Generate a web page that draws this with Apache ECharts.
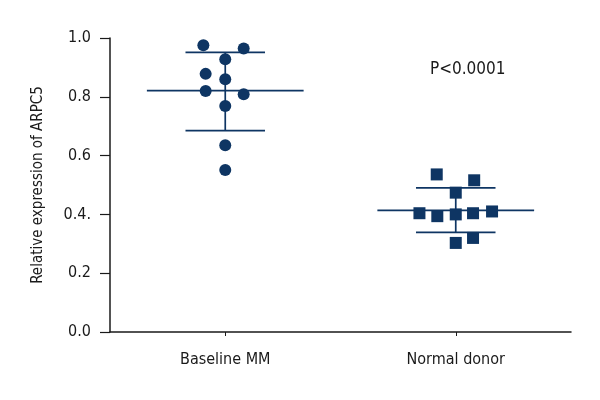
<!DOCTYPE html>
<html>
<head>
<meta charset="utf-8">
<script src="https://cdn.jsdelivr.net/npm/echarts@6/dist/echarts.min.js"></script>
<style>html,body{margin:0;padding:0;background:#fff;}#c{width:600px;height:400px;}</style>
</head>
<body>
<div id="c"></div>
<script>
var categories = ['Baseline MM', 'Normal donor'];
var yTickLabels = {'0': '0.0', '0.2': '0.2', '0.4': '0.4.', '0.6': '0.6', '0.8': '0.8', '1': '1.0'};

// Baseline MM (circles): jitter offset and value
var baselineJitter = [-0.19, 0.16, 0, -0.17, 0, -0.17, 0.16, 0, 0, 0];
var baselineValues = [0.975, 0.964, 0.928, 0.878, 0.860, 0.820, 0.809, 0.769, 0.635, 0.551];
// Normal donor (squares)
var normalJitter = [-0.165, 0.16, 0, -0.315, -0.16, 0, 0.15, 0.315, 0, 0.15];
var normalValues = [0.536, 0.516, 0.474, 0.404, 0.394, 0.400, 0.404, 0.410, 0.303, 0.320];

var groupMean = [0.821, 0.414];
var groupUpper = [0.951, 0.490];
var groupLower = [0.685, 0.339];
var pText = 'P<0.0001';

var color = '#0e3563';
var FONT = "'Liberation Sans Narrow', 'DejaVu Sans Condensed', sans-serif";
var centers = [1, 3];
var meanHalf = 0.68, sdHalf = 0.345;

function pts(center, jit, vals) {
  return vals.map(function (v, i) { return [center + jit[i], v]; });
}

var series = [
  {type: 'scatter', xAxisIndex: 1, symbol: 'circle', symbolSize: 12, itemStyle: {color: color, opacity: 1}, data: pts(centers[0], baselineJitter, baselineValues), z: 5},
  {type: 'scatter', xAxisIndex: 1, symbol: 'rect', symbolSize: 12, itemStyle: {color: color, opacity: 1}, data: pts(centers[1], normalJitter, normalValues), z: 5}
];
function seg(a, b) {
  series.push({type: 'line', xAxisIndex: 1, data: [a, b], symbol: 'none', silent: true,
    lineStyle: {color: color, width: 1.7}, z: 3});
}
for (var g = 0; g < 2; g++) {
  var c = centers[g];
  seg([c - meanHalf, groupMean[g]], [c + meanHalf, groupMean[g]]);
  seg([c - sdHalf, groupUpper[g]], [c + sdHalf, groupUpper[g]]);
  seg([c - sdHalf, groupLower[g]], [c + sdHalf, groupLower[g]]);
  seg([c, groupLower[g]], [c, groupUpper[g]]);
}

var chart = echarts.init(document.getElementById('c'), null, {renderer: 'canvas'});
chart.setOption({
  animation: false,
  backgroundColor: '#fff',
  grid: {left: 110, right: 29, top: 38, bottom: 68},
  xAxis: [
    {type: 'category', data: categories, boundaryGap: true,
      axisLine: {show: true, lineStyle: {color: '#1a1a1a', width: 1.5}},
      axisTick: {show: true, alignWithLabel: true, length: 4, lineStyle: {color: '#1a1a1a'}},
      axisLabel: {color: '#1a1a1a', fontFamily: FONT, fontSize: 16, margin: 20},
      splitLine: {show: false}},
    {type: 'value', min: 0, max: 4, show: false}
  ],
  yAxis: {type: 'value', min: 0, max: 1, interval: 0.2,
    name: 'Relative expression of ARPC5', nameLocation: 'middle', nameGap: 64,
    nameTextStyle: {color: '#1a1a1a', fontFamily: FONT, fontSize: 15},
    axisLine: {show: true, lineStyle: {color: '#1a1a1a', width: 1.5}},
    axisTick: {show: true, length: 10, lineStyle: {color: '#1a1a1a', width: 1.2}},
    axisLabel: {color: '#1a1a1a', fontFamily: FONT, fontSize: 16, margin: 19,
      formatter: function (v) { var k = String(Math.round(v * 10) / 10); return yTickLabels[k] || v.toFixed(1); }},
    splitLine: {show: false}},
  graphic: [{type: 'text', left: 430, top: 61, style: {text: pText, fill: '#1a1a1a', font: '17px ' + FONT}}],
  series: series
});
</script>
</body>
</html>
